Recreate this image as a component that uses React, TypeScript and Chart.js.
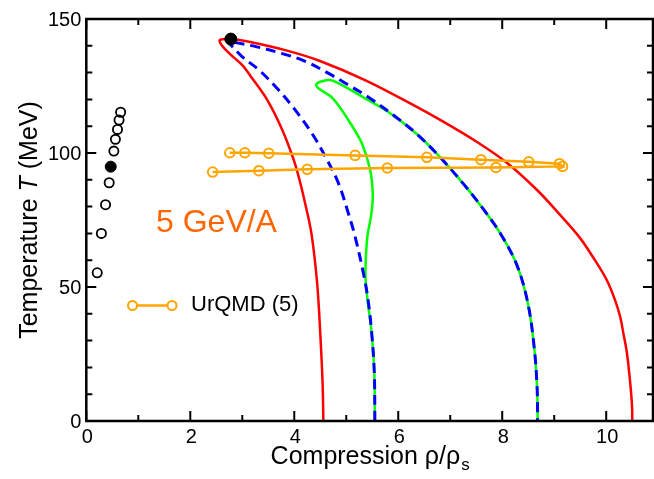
import React, { useEffect, useRef } from 'react';
import { Chart, registerables } from 'chart.js';

Chart.register(...registerables);

// Red solid boundary (x = ρ/ρs, y = T MeV)
const redCurve: [number, number][] = [
  [4.56, 0], [4.545, 14.1], [4.5, 32.7], [4.44, 51.4], [4.33, 70.0], [4.2, 82.0],
  [4.1, 90.0], [3.99, 97.4], [3.77, 108.6], [3.48, 119.8], [3.19, 127.9],
  [3.0, 132.8], [2.76, 137.0], [2.6, 140.3], [2.57, 142.2], [2.78, 142.5],
  [3.13, 141.5], [3.86, 138.2], [4.47, 134.5], [5.36, 127.2], [6.25, 118.3],
  [6.89, 111.4], [7.53, 103.9], [8.1, 96.2], [8.67, 86.2], [9.1, 77.2],
  [9.48, 68.7], [9.78, 60.1], [10.01, 52.6], [10.17, 45.1], [10.27, 38.8],
  [10.33, 32.7], [10.39, 26.5], [10.43, 20.3], [10.48, 10.3], [10.5, 4.1], [10.5, 0],
];

// Blue dashed boundary
const blueCurve: [number, number][] = [
  [5.55, 0], [5.54, 17.8], [5.49, 32.7], [5.42, 45.1], [5.33, 55.1],
  [5.17, 68.8], [5.04, 77.5], [4.85, 88.7], [4.6, 98.6], [4.34, 107.3],
  [4.02, 116.0], [3.7, 123.5], [3.32, 131.0], [3.0, 135.9], [2.78, 140.3],
  [2.71, 141.8], [2.82, 141.4], [3.26, 139.7], [3.77, 137.1], [4.2, 134.3],
  [4.66, 129.7], [5.04, 125.4], [5.42, 120.9], [5.93, 113.8], [6.38, 106.7],
  [6.82, 98.1], [7.27, 88.1], [7.62, 79.5], [7.97, 69.8], [8.29, 57.8],
  [8.5, 43.3], [8.62, 26.5], [8.67, 12.7], [8.68, 3.4], [8.68, 0],
];

// Green solid boundary
const greenCurve: [number, number][] = [
  [5.55, 0], [5.54, 17.8], [5.49, 32.7], [5.41, 45.1], [5.37, 53.7], [5.38, 61.9],
  [5.41, 69.4], [5.48, 76.9], [5.51, 84.3], [5.46, 93.7], [5.3, 103.6],
  [5.04, 112.3], [4.74, 120.4], [4.47, 124.1], [4.42, 125.4], [4.5, 126.6],
  [4.69, 127.2], [4.91, 125.4], [5.36, 120.4], [5.81, 115.3], [6.38, 106.7],
  [6.82, 98.1], [7.27, 88.1], [7.62, 79.5], [7.97, 69.8], [8.29, 57.8],
  [8.5, 43.3], [8.62, 26.5], [8.67, 12.7], [8.68, 3.4], [8.68, 0],
];

// UrQMD (5) trajectory
const urqmdX = [2.76, 3.05, 3.51, 5.17, 6.55, 7.59, 8.51, 9.1, 9.16, 7.88, 5.79, 4.25, 3.32, 2.43];
const urqmdT = [100.1, 100.1, 99.9, 99.1, 98.4, 97.5, 96.7, 96.0, 95.0, 94.6, 94.4, 93.9, 93.4, 92.9];

// Black open circles
const openX = [0.21, 0.29, 0.37, 0.44, 0.53, 0.56, 0.6, 0.63, 0.66];
const openT = [55.3, 70.0, 80.7, 88.9, 100.7, 105.1, 108.8, 112.3, 115.2];

// Black filled circles
const filledX = [0.47, 2.78];
const filledT = [94.9, 142.5];

const xMajorTicks = [0, 2, 4, 6, 8, 10];
const xTickLabels = ['0', '2', '4', '6', '8', '10'];
const yMajorTicks = [0, 50, 100, 150];
const yTickLabels = ['0', '50', '100', '150'];

const FONT = "'Liberation Sans', Arial, Helvetica, sans-serif";

export default function App() {
  const ref = useRef<HTMLCanvasElement>(null);

  useEffect(() => {
    if (!ref.current) return;
    const pts = (a: [number, number][]) => a.map(([x, y]) => ({ x, y }));
    const zip = (xs: number[], ys: number[]) => xs.map((x, i) => ({ x, y: ys[i] }));

    const framePlugin = {
      id: 'frame',
      afterDatasetsDraw(chart: any) {
        const ctx = chart.ctx as CanvasRenderingContext2D;
        const xs = chart.scales.x;
        const ys = chart.scales.y;
        const a = chart.chartArea;
        ctx.save();
        ctx.strokeStyle = '#000';
        ctx.lineWidth = 2.5;
        ctx.strokeRect(a.left, a.top, a.right - a.left, a.bottom - a.top);
        ctx.lineWidth = 2;
        for (let v = 0; v <= 10; v++) {
          const px = xs.getPixelForValue(v);
          const len = v % 2 === 0 ? 10 : 6;
          ctx.beginPath();
          ctx.moveTo(px, a.bottom);
          ctx.lineTo(px, a.bottom - len);
          ctx.moveTo(px, a.top);
          ctx.lineTo(px, a.top + len);
          ctx.stroke();
        }
        for (let v = 0; v <= 150; v += 10) {
          const py = ys.getPixelForValue(v);
          const len = v % 50 === 0 ? 10 : 6;
          ctx.beginPath();
          ctx.moveTo(a.left, py);
          ctx.lineTo(a.left + len, py);
          ctx.moveTo(a.right, py);
          ctx.lineTo(a.right - len, py);
          ctx.stroke();
        }
        ctx.fillStyle = '#000';
        ctx.font = `20px ${FONT}`;
        ctx.textAlign = 'center';
        ctx.textBaseline = 'middle';
        xMajorTicks.forEach((v, i) => {
          ctx.fillText(xTickLabels[i], xs.getPixelForValue(v) + 1, a.bottom + 16);
        });
        ctx.textAlign = 'right';
        yMajorTicks.forEach((v, i) => {
          ctx.fillText(yTickLabels[i], a.left - 5, ys.getPixelForValue(v) + 1);
        });

        // x title
        ctx.font = `25px ${FONT}`;
        ctx.textAlign = 'left';
        ctx.textBaseline = 'alphabetic';
        const main = 'Compression ρ/ρ';
        const wMain = ctx.measureText(main).width;
        ctx.font = `17px ${FONT}`;
        const wSub = ctx.measureText('s').width;
        const cx = (a.left + a.right) / 2;
        const x0 = cx - (wMain + wSub) / 2;
        ctx.font = `25px ${FONT}`;
        ctx.fillText(main, x0, 464);
        ctx.font = `17px ${FONT}`;
        ctx.fillText('s', x0 + wMain + 1, 470);

        // y title
        ctx.save();
        ctx.translate(37, (a.top + a.bottom) / 2);
        ctx.rotate(-Math.PI / 2);
        const parts: [string, string][] = [
          ['Temperature ', `25px ${FONT}`],
          ['T', `italic 25px ${FONT}`],
          [' (MeV)', `25px ${FONT}`],
        ];
        let total = 0;
        parts.forEach(([t, f]) => { ctx.font = f; total += ctx.measureText(t).width; });
        let px = -total / 2;
        parts.forEach(([t, f]) => {
          ctx.font = f;
          ctx.fillText(t, px, 0);
          px += ctx.measureText(t).width;
        });
        ctx.restore();

        // annotation
        ctx.fillStyle = '#FF6600';
        ctx.font = `32px ${FONT}`;
        ctx.textAlign = 'left';
        ctx.textBaseline = 'alphabetic';
        ctx.fillText('5 GeV/A', 156, 232);

        // legend
        const ly = 305.5;
        ctx.strokeStyle = '#FFA500';
        ctx.lineWidth = 2.5;
        ctx.beginPath();
        ctx.moveTo(132.5, ly);
        ctx.lineTo(172, ly);
        ctx.stroke();
        ctx.lineWidth = 2;
        [132.5, 172].forEach((lx) => {
          ctx.beginPath();
          ctx.arc(lx, ly, 4.5, 0, Math.PI * 2);
          ctx.fillStyle = '#fff';
          ctx.fill();
          ctx.stroke();
        });
        ctx.fillStyle = '#000';
        ctx.font = `22px ${FONT}`;
        ctx.textBaseline = 'middle';
        ctx.fillText('UrQMD (5)', 191, ly - 1);
        ctx.restore();
      },
    };

    const chart = new Chart(ref.current, {
      type: 'scatter',
      data: {
        datasets: [
          {
            data: pts(greenCurve), showLine: true, borderColor: '#00FF00', borderWidth: 2.5,
            pointRadius: 0, tension: 0.35, order: 6,
          },
          {
            data: pts(blueCurve), showLine: true, borderColor: '#0000FF', borderWidth: 3,
            borderDash: [10, 6], pointRadius: 0, tension: 0.35, order: 5,
          },
          {
            data: pts(redCurve), showLine: true, borderColor: '#FF0000', borderWidth: 2.5,
            pointRadius: 0, tension: 0.35, order: 4,
          },
          {
            data: zip(urqmdX, urqmdT), showLine: true, borderColor: '#FFA500', borderWidth: 2.5,
            pointRadius: 4.8, pointBorderWidth: 2, pointBorderColor: '#FFA500',
            pointBackgroundColor: 'rgba(255,255,255,0)', tension: 0, order: 3,
          },
          {
            data: zip(openX, openT), showLine: false, pointRadius: 4.6, pointBorderWidth: 1.8,
            pointBorderColor: '#000', pointBackgroundColor: 'rgba(255,255,255,0)', order: 2,
          },
          {
            data: zip(filledX, filledT), showLine: false, pointRadius: [5.5, 6],
            pointBorderWidth: 1, pointBorderColor: '#000', pointBackgroundColor: '#000', order: 1,
          },
        ],
      },
      options: {
        responsive: false,
        animation: false,
        devicePixelRatio: 1,
        layout: { padding: { left: 86.3, top: 19, right: 660 - 656.4, bottom: 58 } },
        scales: {
          x: { type: 'linear', min: 0, max: 10.9, display: false },
          y: { type: 'linear', min: 0, max: 150, display: false },
        },
        plugins: { legend: { display: false }, tooltip: { enabled: false } },
      },
      plugins: [framePlugin],
    } as any);
    return () => chart.destroy();
  }, []);

  return (
    <div style={{ position: 'absolute', left: 0, top: 0, width: 654, height: 479, overflow: 'hidden', background: '#fff' }}>
      <canvas ref={ref} width={660} height={479} style={{ display: 'block', width: 660, height: 479 }} />
    </div>
  );
}
